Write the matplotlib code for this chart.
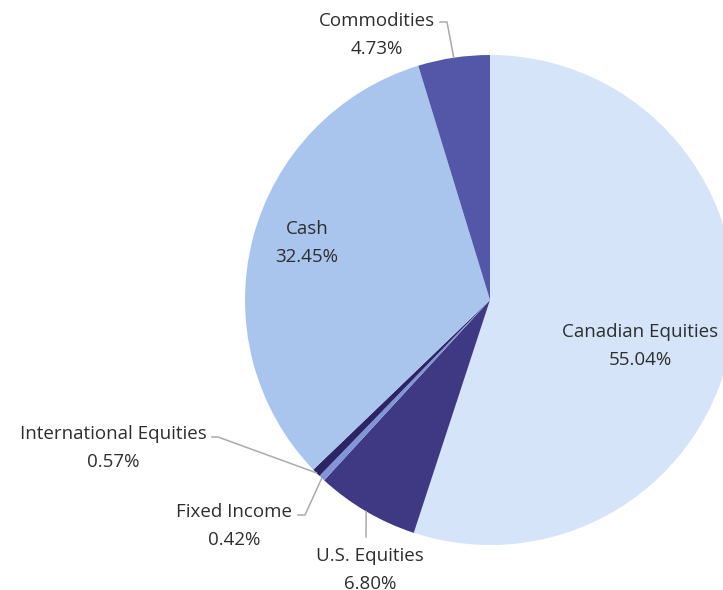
import numpy as np
import matplotlib.pyplot as plt

plt.rcParams['font.family'] = ['Open Sans', 'DejaVu Sans']

# allocation data (clockwise from 12 o'clock)
names = ["Canadian Equities", "U.S. Equities", "Fixed Income",
         "International Equities", "Cash", "Commodities"]
shares = [55.04, 6.80, 0.42, 0.57, 32.45, 4.73]
colors = ["#d5e4f9", "#3f3882", "#8096d8", "#2d2466", "#a9c5ee", "#5457a8"]

W, H = 723, 590
cx, cy, R = 490, 300, 245  # pie centre / radius in pixels

fig = plt.figure(figsize=(W / 100, H / 100), dpi=100)
ax = fig.add_axes([(cx - R) / W, (H - cy - R) / H, 2 * R / W, 2 * R / H])
wedges, _ = ax.pie(shares, colors=colors, startangle=90, counterclock=False,
                   wedgeprops=dict(linewidth=0))
ax.set_xlim(-1, 1)
ax.set_ylim(-1, 1)
ax.set_aspect("equal")
ax.axis("off")


def px(x, y):
    # pixel position -> data coords
    return (x - cx) / R, (cy - y) / R


def edge(w, r=1.0):
    a = np.deg2rad((w.theta1 + w.theta2) / 2)
    return r * np.cos(a), r * np.sin(a)


txt = dict(color="#2e2e2e", fontsize=13.5, ha="center", va="center",
           linespacing=1.72, clip_on=False)
lc = dict(color="#aaaaaa", lw=1.1, clip_on=False)

# inside labels
for i, pos in [(0, (640, 346)), (4, (307, 243))]:
    ax.text(*px(*pos), f"{names[i]}\n{shares[i]:.2f}%", **txt)

# outside labels: (index, text centre, path points in px before wedge edge)
outside = [
    (5, (377, 35), [(440, 22), (447, 22)]),
    (3, (113, 448), [(212, 437), (218, 437)]),
    (2, (234, 526), [(298, 515), (305, 515)]),
    (1, (370, 570), [(366, 537)]),
]
for i, pos, path in outside:
    ax.text(*px(*pos), f"{names[i]}\n{shares[i]:.2f}%", **txt)
    pts = [px(*p) for p in path] + [edge(wedges[i])]
    xs, ys = zip(*pts)
    ax.plot(xs, ys, **lc)

fig.savefig("out.png", dpi=100)
